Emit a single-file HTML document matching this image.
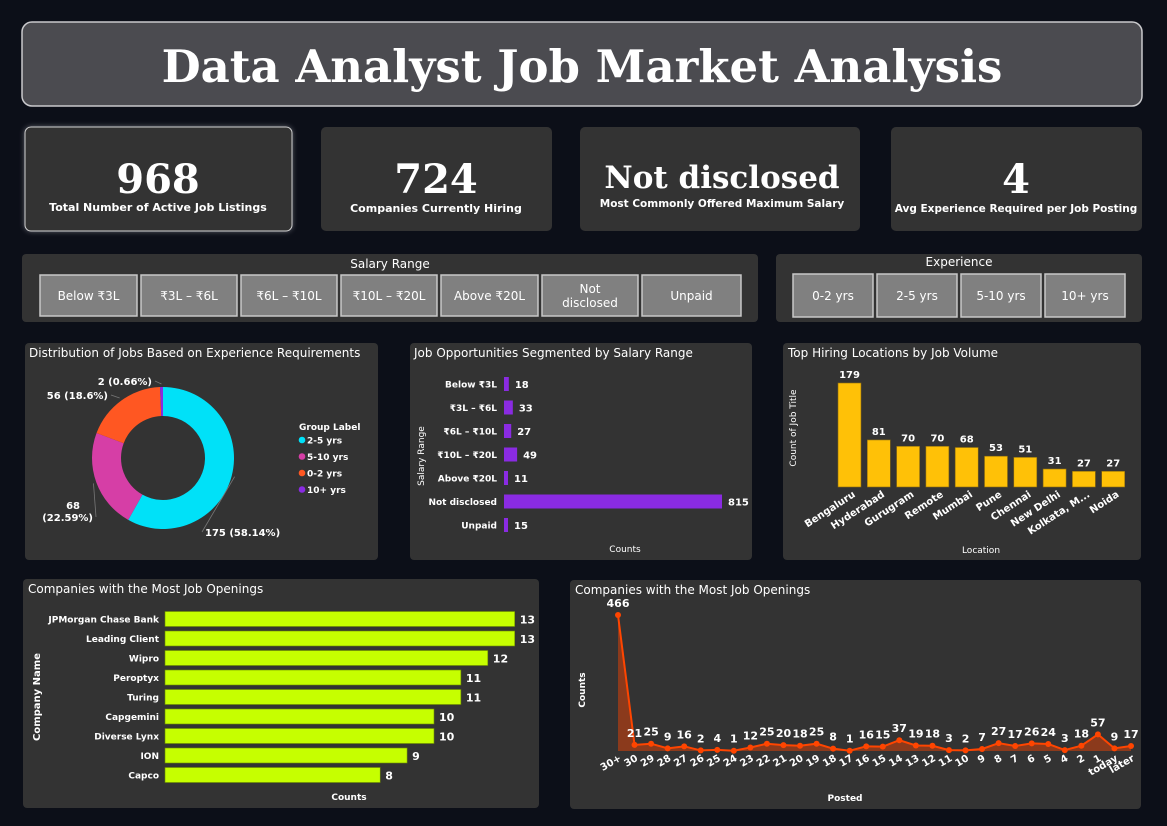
<!DOCTYPE html>
<html><head><meta charset="utf-8"><style>
html,body{margin:0;padding:0;background:#0c0f18;}
svg{display:block;font-family:"DejaVu Sans","Liberation Sans",sans-serif;}
.t{fill:#fff;}
</style></head><body>
<svg width="1167" height="826" viewBox="0 0 1167 826" xmlns="http://www.w3.org/2000/svg">
<defs>
<filter id="glow" x="-20%" y="-20%" width="140%" height="140%"><feGaussianBlur stdDeviation="3"/></filter>
</defs>
<rect width="1167" height="826" fill="#0c0f18"/>
<rect x="22" y="22" width="1120" height="84" rx="10" fill="#4b4b50" stroke="#c9c9cc" stroke-width="1.5"/>
<text x="582" y="82" text-anchor="middle" font-family="'DejaVu Serif','Liberation Serif',serif" font-weight="bold" font-size="45" fill="#fff">Data Analyst Job Market Analysis</text>

<rect x="25" y="127" width="267" height="104" rx="6" fill="#d8d8e0" opacity="0.5" filter="url(#glow)"/>
<g>
<rect x="25" y="127" width="267" height="104" rx="6" fill="#333333" stroke="#d0d0d0" stroke-width="1"/>
<text x="158" y="193" text-anchor="middle" font-family="'DejaVu Serif',serif" font-weight="bold" font-size="40" class="t">968</text>
<text x="158" y="211" text-anchor="middle" font-size="11" font-weight="bold" class="t">Total Number of Active Job Listings</text></g>
<g>
<rect x="321" y="127" width="231" height="104" rx="5" fill="#333333"/>
<text x="436" y="193" text-anchor="middle" font-family="'DejaVu Serif',serif" font-weight="bold" font-size="40" class="t">724</text>
<text x="436" y="212" text-anchor="middle" font-size="11" font-weight="bold" class="t">Companies Currently Hiring</text></g>
<g>
<rect x="580" y="127" width="280" height="104" rx="5" fill="#333333"/>
<text x="722" y="188" text-anchor="middle" font-family="'DejaVu Serif',serif" font-weight="bold" font-size="31" class="t">Not disclosed</text>
<text x="722" y="207" text-anchor="middle" font-size="10.5" font-weight="bold" class="t">Most Commonly Offered Maximum Salary</text></g>
<g>
<rect x="891" y="127" width="251" height="104" rx="5" fill="#333333"/>
<text x="1016" y="193" text-anchor="middle" font-family="'DejaVu Serif',serif" font-weight="bold" font-size="40" class="t">4</text>
<text x="1016" y="212" text-anchor="middle" font-size="10.5" font-weight="bold" class="t">Avg Experience Required per Job Posting</text></g>

<rect x="22" y="254" width="736" height="68" rx="4" fill="#333333"/>
<text x="390" y="268" text-anchor="middle" font-size="12" class="t">Salary Range</text>
<g id="salBtns"></g>
<rect x="776" y="254" width="366" height="68" rx="4" fill="#333333"/>
<text x="959" y="266" text-anchor="middle" font-size="12" class="t">Experience</text>
<g id="expBtns"></g>

<rect x="25" y="343" width="353" height="217" rx="4" fill="#333333"/>
<text x="29" y="357" font-size="12" class="t">Distribution of Jobs Based on Experience Requirements</text>
<g id="donut"></g>

<rect x="410" y="343" width="342" height="217" rx="4" fill="#333333"/>
<text x="414" y="357" font-size="12" class="t">Job Opportunities Segmented by Salary Range</text>
<text x="0" y="0" transform="translate(424,456) rotate(-90)" text-anchor="middle" font-size="9" class="t">Salary Range</text>
<text x="625" y="552" text-anchor="middle" font-size="9" class="t">Counts</text>
<g id="salBars"></g>

<rect x="783" y="343" width="358" height="217" rx="4" fill="#333333"/>
<text x="788" y="357" font-size="12" class="t">Top Hiring Locations by Job Volume</text>
<text transform="translate(796,428) rotate(-90)" text-anchor="middle" font-size="9" class="t">Count of Job Title</text>
<text x="981" y="553" text-anchor="middle" font-size="9" class="t">Location</text>
<g id="locBars"></g>

<rect x="23" y="579" width="516" height="229" rx="4" fill="#333333"/>
<text x="28" y="593" font-size="12" class="t">Companies with the Most Job Openings</text>
<text transform="translate(40,697) rotate(-90)" text-anchor="middle" font-size="10" font-weight="bold" class="t">Company Name</text>
<text x="349" y="800" text-anchor="middle" font-size="9" font-weight="bold" class="t">Counts</text>
<g id="compBars"></g>

<rect x="570" y="580" width="571" height="229" rx="4" fill="#333333"/>
<text x="575" y="594" font-size="12" class="t">Companies with the Most Job Openings</text>
<text transform="translate(585,690) rotate(-90)" text-anchor="middle" font-size="9" font-weight="bold" class="t">Counts</text>
<text x="845" y="801" text-anchor="middle" font-size="9" font-weight="bold" class="t">Posted</text>
<g id="line"></g>
</svg>
<script>
const NS="http://www.w3.org/2000/svg";
function mk(tag,attrs,parent,txt){const e=document.createElementNS(NS,tag);for(const k in attrs)e.setAttribute(k,attrs[k]);if(txt!==undefined)e.textContent=txt;parent.appendChild(e);return e;}

const salaryOptions=["Below ₹3L","₹3L – ₹6L","₹6L – ₹10L","₹10L – ₹20L","Above ₹20L","Not disclosed","Unpaid"];
const expOptions=["0-2 yrs","2-5 yrs","5-10 yrs","10+ yrs"];
const sg=document.getElementById('salBtns');
const salX=[40,141,241,341,441,542,642],salW=[97,96,96,96,97,96,99];
salaryOptions.forEach((s,i)=>{
 const g=mk('g',{},sg);
 
 
 mk('rect',{x:salX[i],y:275,width:salW[i],height:41,fill:'#808080',stroke:'#c8c8c8','stroke-width':1.5},g);
 if(s==="Not disclosed"){mk('text',{x:salX[i]+salW[i]/2,y:293,'text-anchor':'middle','font-size':12,fill:'#fff'},g,'Not');mk('text',{x:salX[i]+salW[i]/2,y:307,'text-anchor':'middle','font-size':12,fill:'#fff'},g,'disclosed');}
 else mk('text',{x:salX[i]+salW[i]/2,y:300,'text-anchor':'middle','font-size':12,fill:'#fff'},g,s);
});
const eg=document.getElementById('expBtns');
expOptions.forEach((s,i)=>{
 const x=793+i*84;
 const g=mk('g',{},eg);
 
 
 mk('rect',{x:x,y:274,width:80,height:43,fill:'#808080',stroke:'#c8c8c8','stroke-width':1.5},g);
 mk('text',{x:x+40,y:300,'text-anchor':'middle','font-size':12,fill:'#fff'},g,s);
});

// donut
const donutLabels=["2-5 yrs","5-10 yrs","0-2 yrs","10+ yrs"];
const donutValues=[175,68,56,2];
const donutColors=["#00e1f8","#d63ea6","#ff5722","#8a2be2"];
const dg=document.getElementById('donut');
const cx=163,cy=458,R=71,r=42;
const tot=donutValues.reduce((a,b)=>a+b,0);
const labelPos=[[205,536,'start'],[93,521,'end'],[108,399,'end'],[152,385,'end']];
let ang=0.0;
const startOff=-Math.PI/2;
donutValues.forEach((v,i)=>{
 const a0=startOff+ang/tot*2*Math.PI; ang+=v; const a1=startOff+ang/tot*2*Math.PI;
 const lg=(a1-a0)>Math.PI?1:0;
 const p=`M${cx+R*Math.cos(a0)},${cy+R*Math.sin(a0)} A${R},${R} 0 ${lg} 1 ${cx+R*Math.cos(a1)},${cy+R*Math.sin(a1)} L${cx+r*Math.cos(a1)},${cy+r*Math.sin(a1)} A${r},${r} 0 ${lg} 0 ${cx+r*Math.cos(a0)},${cy+r*Math.sin(a0)} Z`;
 const s=mk('path',{d:p,fill:donutColors[i]},dg);
 
 
 const pct=Math.round(v/tot*10000)/100;
 const mid=(a0+a1)/2;
 const ex=cx+(R+3)*Math.cos(mid), ey=cy+(R+3)*Math.sin(mid);
 const [tx,ty,anc]=labelPos[i];
 const lx=anc==='start'?tx-3:tx+3;
 mk('polyline',{points:`${ex},${ey} ${lx},${ty-4}`,fill:'none',stroke:'#777','stroke-width':0.8},dg);
 if(i===1){
  mk('text',{x:tx-13,y:ty-12,'text-anchor':'end','font-size':10,'font-weight':'bold',fill:'#fff'},dg,String(v));
  mk('text',{x:tx,y:ty,'text-anchor':'end','font-size':10,'font-weight':'bold',fill:'#fff'},dg,"("+pct+"%)");
 } else {
  mk('text',{x:tx,y:ty,'text-anchor':anc,'font-size':10,'font-weight':'bold',fill:'#fff'},dg,v+" ("+pct+"%)");
 }
});
mk('text',{x:299,y:430,'font-size':9,'font-weight':'bold',fill:'#fff'},dg,'Group Label');
donutLabels.forEach((l,i)=>{
 const g=mk('g',{},dg);
 
 
 mk('circle',{cx:302,cy:440+i*16.5,r:3.3,fill:donutColors[i]},g);
 mk('text',{x:307,y:443.5+i*16.5,'font-size':9,'font-weight':'bold',fill:'#fff'},g,l);
});

// salary bars
const salCats=["Below ₹3L","₹3L – ₹6L","₹6L – ₹10L","₹10L – ₹20L","Above ₹20L","Not disclosed","Unpaid"];
const salVals=[18,33,27,49,11,815,15];
const sb=document.getElementById('salBars');
const sx=v=>v/815*218, sy=i=>384+i*23.5;
salCats.forEach((c,i)=>{
 const y=sy(i);
 mk('text',{x:497,y:y+3.5,'text-anchor':'end','font-size':9,'font-weight':'bold',fill:'#fff'},sb,c);
 const b=mk('rect',{x:504,y:y-7,width:Math.max(sx(salVals[i]),4),height:14,fill:'#8a2be2'},sb);
 
 
 mk('text',{x:504+Math.max(sx(salVals[i]),4)+6,y:y+4,'font-size':10,'font-weight':'bold',fill:'#fff'},sb,String(salVals[i]));
});

// location bars
const locCats=["Bengaluru","Hyderabad","Gurugram","Remote","Mumbai","Pune","Chennai","New Delhi","Kolkata, M...","Noida"];
const locVals=[179,81,70,70,68,53,51,31,27,27];
const lb=document.getElementById('locBars');
const ly0=487, lyS=104/179;
locCats.forEach((c,i)=>{
 const x=838+i*29.3, h=locVals[i]*lyS;
 const b=mk('rect',{x:x,y:ly0-h,width:23,height:h,fill:'#ffc107',stroke:'#8a6a10','stroke-width':0.6},lb);
 
 
 mk('text',{x:x+11.5,y:ly0-h-5,'text-anchor':'middle','font-size':10,'font-weight':'bold',fill:'#fff'},lb,String(locVals[i]));
 mk('text',{x:0,y:0,transform:`translate(${x+18},${ly0+9}) rotate(-33)`,'text-anchor':'end','font-size':10,'font-weight':'bold',fill:'#fff'},lb,c);
});

// companies
const compCats=["JPMorgan Chase Bank","Leading Client","Wipro","Peroptyx","Turing","Capgemini","Diverse Lynx","ION","Capco"];
const compVals=[13,13,12,11,11,10,10,9,8];
const cb=document.getElementById('compBars');
compCats.forEach((c,i)=>{
 const y=619+i*19.5, w=compVals[i]*26.9;
 mk('text',{x:159,y:y+3.5,'text-anchor':'end','font-size':9,'font-weight':'bold',fill:'#fff'},cb,c);
 const b=mk('rect',{x:165,y:y-7.5,width:w,height:15,fill:'#c6ff00',stroke:'#6c8a00','stroke-width':0.6},cb);
 
 
 mk('text',{x:165+w+5,y:y+4.5,'font-size':11,'font-weight':'bold',fill:'#fff'},cb,String(compVals[i]));
});

// line
const postCats=["30+","30","29","28","27","26","25","24","23","22","21","20","19","18","17","16","15","14","13","12","11","10","9","8","7","6","5","4","2","1","today","later"];
const postVals=[466,21,25,9,16,2,4,1,12,25,20,18,25,8,1,16,15,37,19,18,3,2,7,27,17,26,24,3,18,57,9,17];
const lg=document.getElementById('line');
const px=i=>618+i*(1131-618)/(postCats.length-1), py=v=>751-v*136/466;
let area=`M${px(0)},751`, ln='';
postVals.forEach((v,i)=>{area+=` L${px(i)},${py(v)}`;ln+=(i?' L':'M')+px(i)+','+py(v);});
area+=` L${px(postVals.length-1)},751 Z`;
const ar=mk('path',{d:area,fill:'#8b3a1c'},lg);


const pl=mk('path',{d:ln,fill:'none',stroke:'#ff4500','stroke-width':2},lg);


postVals.forEach((v,i)=>{
 const c=mk('circle',{cx:px(i),cy:py(v),r:3,fill:'#ff4500'},lg);
 
 
 mk('text',{x:px(i),y:py(v)-8,'text-anchor':'middle','font-size':11,'font-weight':'bold',fill:'#fff'},lg,String(v));
 mk('text',{transform:`translate(${px(i)+4},${760}) rotate(-30)`,'text-anchor':'end','font-size':10,'font-weight':'bold',fill:'#fff'},lg,postCats[i]);
});
</script>
</body></html>
